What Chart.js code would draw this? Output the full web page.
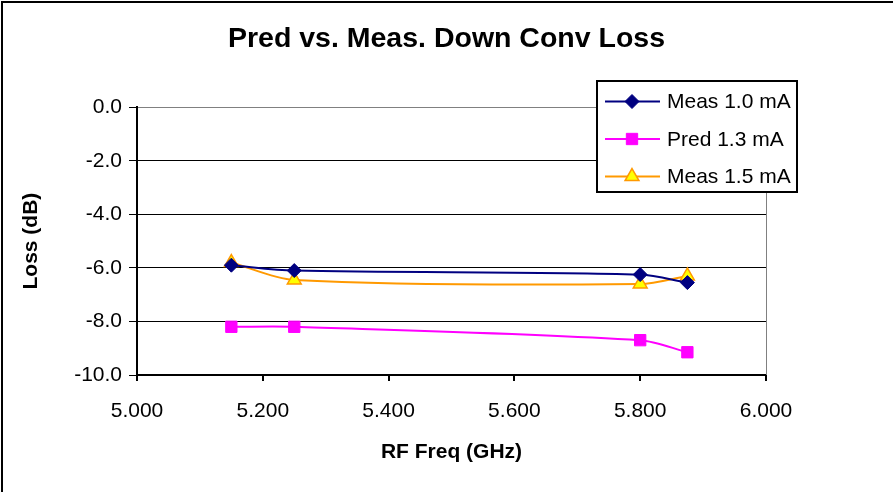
<!DOCTYPE html>
<html lang="en">
<head>
<meta charset="UTF-8">
<title>Pred vs. Meas. Down Conv Loss</title>
<script src="https://cdn.jsdelivr.net/npm/chart.js"></script>
<style>
    body { margin: 0; background: #fff; }
    canvas { display: block; }
</style>
</head>
<body>
<canvas id="grafica" width="893" height="492"></canvas>
<script>
    // data
    const freq = [5.15, 5.25, 5.8, 5.875];
    const meas10 = [-5.9, -6.1, -6.25, -6.55];
    const pred13 = [-8.2, -8.2, -8.7, -9.15];
    const meas15 = [-5.8, -6.45, -6.6, -6.3];
    const seriesNames = ["Meas 1.0 mA", "Pred 1.3 mA", "Meas 1.5 mA"];

    const fuente = "'Liberation Sans', Arial, sans-serif";

    const puntos = (ys) => freq.map((x, i) => ({ x: x, y: ys[i] }));

    const datasets = [
        {
            label: seriesNames[0],
            data: puntos(meas10),
            borderColor: "#000080",
            backgroundColor: "#000080",
            pointStyle: "rectRot",
            pointRadius: 7,
            pointBorderWidth: 1
        },
        {
            label: seriesNames[1],
            data: puntos(pred13),
            borderColor: "#FF00FF",
            backgroundColor: "#FF00FF",
            pointStyle: "rect",
            pointRadius: 8,
            pointBorderWidth: 1
        },
        {
            label: seriesNames[2],
            data: puntos(meas15),
            borderColor: "#FF9900",
            backgroundColor: "#FFFF00",
            pointStyle: "triangle",
            pointRadius: 8,
            pointBorderWidth: 1.5
        }
    ];
    datasets.forEach(d => {
        d.borderWidth = 2;
        d.tension = 0.3;
        d.showLine = true;
    });

    // frame, plot border and floating legend box
    const extras = {
        id: "extras",
        beforeDraw(chart) {
            const ctx = chart.ctx;
            ctx.save();
            ctx.fillStyle = "#fff";
            ctx.fillRect(0, 0, chart.width, chart.height);
            ctx.strokeStyle = "#000";
            ctx.lineWidth = 2;
            ctx.beginPath();
            ctx.moveTo(2, chart.height + 5);
            ctx.lineTo(2, 2);
            ctx.lineTo(chart.width + 5, 2);
            ctx.stroke();
            ctx.restore();
        },
        afterDatasetsDraw(chart) {
            const ctx = chart.ctx;
            const a = chart.chartArea;
            ctx.save();
            ctx.strokeStyle = "#808080";
            ctx.lineWidth = 1;
            ctx.beginPath();
            ctx.moveTo(a.right + 0.5, a.top);
            ctx.lineTo(a.right + 0.5, a.bottom);
            ctx.stroke();

            // legend
            const bx = 597, by = 81, bw = 200, bh = 111;
            ctx.fillStyle = "#fff";
            ctx.fillRect(bx, by, bw, bh);
            ctx.strokeStyle = "#000";
            ctx.lineWidth = 2;
            ctx.strokeRect(bx, by, bw, bh);
            const filas = [101.5, 139, 176.5];
            chart.data.datasets.forEach((d, i) => {
                const y = filas[i];
                ctx.strokeStyle = d.borderColor;
                ctx.lineWidth = 2;
                ctx.beginPath();
                ctx.moveTo(605, y);
                ctx.lineTo(660, y);
                ctx.stroke();
                ctx.fillStyle = d.backgroundColor;
                ctx.lineWidth = d.pointBorderWidth;
                Chart.helpers.drawPoint(ctx, {
                    pointStyle: d.pointStyle,
                    radius: d.pointRadius,
                    rotation: 0,
                    borderWidth: d.pointBorderWidth
                }, 632, y);
                ctx.fillStyle = "#000";
                ctx.font = "21px " + fuente;
                ctx.textBaseline = "middle";
                ctx.textAlign = "left";
                ctx.fillText(d.label, 667, y + 1);
            });
            ctx.restore();
        }
    };

    new Chart(document.querySelector("#grafica"), {
        type: "scatter",
        data: { datasets: datasets },
        plugins: [extras],
        options: {
            responsive: false,
            maintainAspectRatio: false,
            animation: false,
            devicePixelRatio: 1,
            layout: { padding: 0 },
            plugins: {
                legend: { display: false },
                tooltip: { enabled: false },
                title: {
                    display: true,
                    text: "Pred vs. Meas. Down Conv Loss",
                    color: "#000",
                    font: { family: fuente, size: 28.5, weight: "bold" },
                    padding: { top: 22, bottom: 51 }
                }
            },
            scales: {
                x: {
                    type: "linear",
                    min: 5,
                    max: 6,
                    afterFit(scale) { scale.height = 117; },
                    ticks: {
                        stepSize: 0.2,
                        color: "#000",
                        padding: 18,
                        font: { family: fuente, size: 21 },
                        callback: v => v.toFixed(3)
                    },
                    grid: {
                        drawOnChartArea: false,
                        drawTicks: true,
                        tickLength: 6,
                        color: "#000",
                        lineWidth: 2
                    },
                    border: { color: "#000", width: 2 },
                    title: {
                        display: true,
                        text: "RF Freq (GHz)",
                        color: "#000",
                        font: { family: fuente, size: 21, weight: "bold" },
                        padding: { top: 0, bottom: 27 }
                    }
                },
                y: {
                    min: -10,
                    max: 0,
                    afterFit(scale) { scale.width = 137; },
                    ticks: {
                        stepSize: 2,
                        color: "#000",
                        padding: 7,
                        font: { family: fuente, size: 21 },
                        callback: v => v.toFixed(1)
                    },
                    grid: {
                        color: ctx => (ctx.tick && ctx.tick.value === 0) ? "#808080" : "#000",
                        tickColor: "#000",
                        tickLength: 8,
                        lineWidth: 1
                    },
                    border: { color: "#000", width: 2 },
                    title: {
                        display: true,
                        text: "Loss (dB)",
                        color: "#000",
                        font: { family: fuente, size: 21, weight: "bold" },
                        padding: { top: 19, bottom: 0 }
                    }
                },
                // empty right-hand margin so the title centres like the reference
                margen: {
                    type: "linear",
                    position: "right",
                    display: true,
                    afterFit(scale) { scale.width = 127; },
                    ticks: { display: false },
                    grid: { display: false, drawTicks: false },
                    border: { display: false }
                }
            }
        }
    });
</script>
</body>
</html>
